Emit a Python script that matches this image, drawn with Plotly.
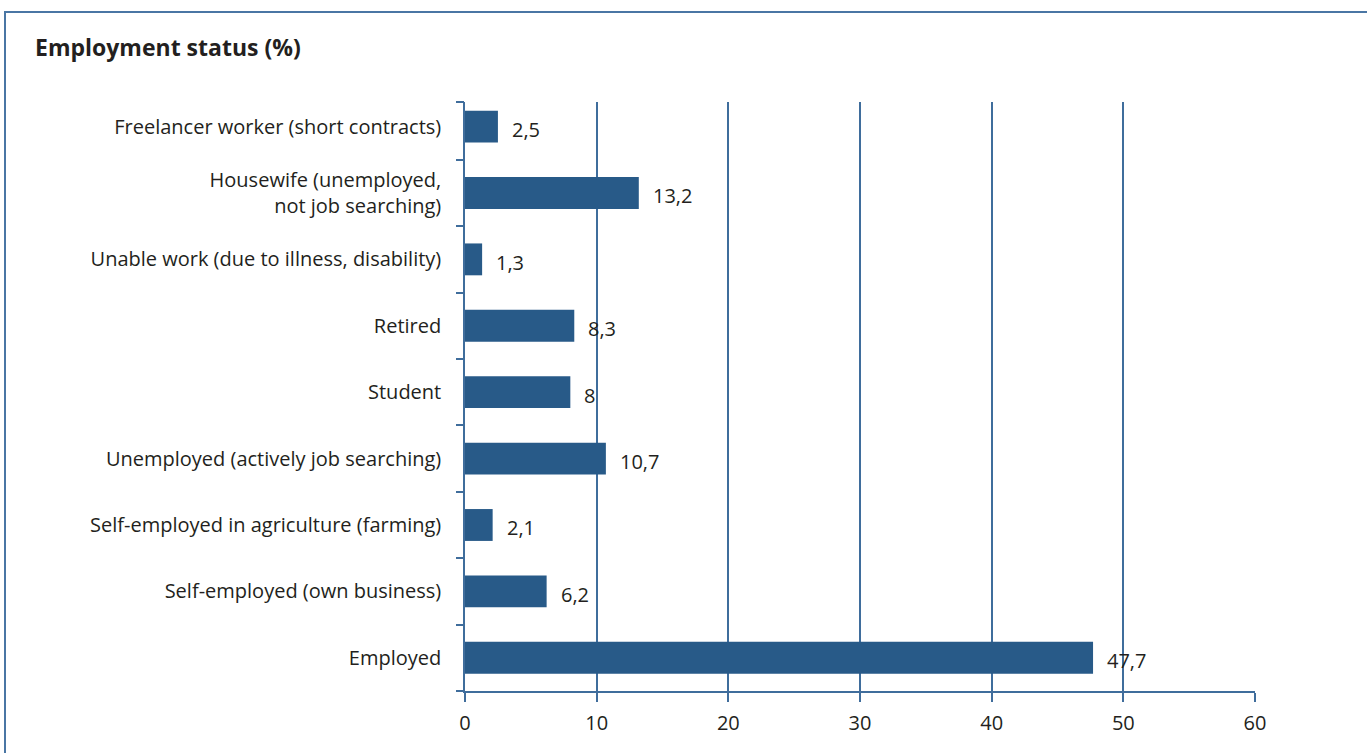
import plotly.graph_objects as go

# Employment status shares (%), listed top to bottom as shown
categories = [
    "Freelancer worker (short contracts)",
    "Housewife (unemployed,<br>not job searching)",
    "Unable work (due to illness, disability)",
    "Retired",
    "Student",
    "Unemployed (actively job searching)",
    "Self-employed in agriculture (farming)",
    "Self-employed (own business)",
    "Employed",
]
values = [2.5, 13.2, 1.3, 8.3, 8, 10.7, 2.1, 6.2, 47.7]
x_ticks = [0, 10, 20, 30, 40, 50, 60]

BAR = "#285a88"
LINE = "#3f6d9c"
TEXT = "#231f20"
FONT = "Open Sans"
FS = 20

# bottom-up order for the horizontal bars
cats_bu = categories[::-1]
vals_bu = values[::-1]
n = len(cats_bu)
y_top = n - 0.63


def fmt(v):
    s = f"{v:g}"
    return s.replace(".", ",")


fig = go.Figure()
fig.add_trace(go.Bar(
    x=vals_bu,
    y=list(range(n)),
    orientation="h",
    marker=dict(color=BAR, line=dict(width=0)),
    width=0.48,
    hoverinfo="skip",
    showlegend=False,
))

annotations = []
for i, v in enumerate(vals_bu):
    annotations.append(dict(
        x=v, y=i, xref="x", yref="y",
        text=fmt(v), showarrow=False,
        xanchor="left", yanchor="middle", xshift=12, yshift=-3,
        font=dict(family=FONT, size=FS, color=TEXT),
    ))

fig.update_layout(
    width=1367, height=753,
    margin=dict(l=465, r=112, t=102, b=62),
    paper_bgcolor="white",
    plot_bgcolor="white",
    title=dict(
        text="<b>Employment status (%)</b>",
        x=35 / 1367, xref="container", xanchor="left",
        y=1 - 48 / 753, yref="container", yanchor="middle",
        font=dict(family=FONT, size=23, color=TEXT),
    ),
    xaxis=dict(
        range=[0, 60],
        tickvals=x_ticks,
        ticktext=[str(t) for t in x_ticks],
        showgrid=True, gridcolor=LINE, gridwidth=1.5,
        zeroline=False,
        showline=True, linecolor=LINE, linewidth=1.5,
        ticks="outside", ticklen=9, tickcolor=LINE, tickwidth=1.5,
        ticklabelstandoff=4,
        tickfont=dict(family=FONT, size=FS, color=TEXT),
        fixedrange=True,
    ),
    yaxis=dict(
        range=[-0.5, y_top],
        tickmode="array",
        tickvals=list(range(n)),
        ticktext=cats_bu,
        showgrid=False, zeroline=False,
        showline=True, linecolor=LINE, linewidth=1.5,
        ticks="", ticklabelstandoff=18,
        tickfont=dict(family=FONT, size=FS, color=TEXT),
        fixedrange=True,
    ),
    yaxis2=dict(
        overlaying="y", side="left", anchor="x",
        range=[-0.5, y_top],
        tickmode="array",
        tickvals=[i - 0.5 for i in range(n)] + [y_top],
        showticklabels=False,
        showgrid=False, zeroline=False, showline=False,
        ticks="outside", ticklen=8, tickcolor=LINE, tickwidth=1.5,
        fixedrange=True,
    ),
    annotations=annotations,
    shapes=[dict(
        type="rect", xref="paper", yref="paper",
        x0=(5 - 465) / 790, x1=(1420 - 465) / 790,
        y0=(691 - 800) / 589, y1=(691 - 12) / 589,
        line=dict(color="#4a76a4", width=2),
        fillcolor="rgba(0,0,0,0)", layer="below",
    )],
)

# invisible trace so the tick-only axis is drawn
fig.add_trace(go.Scatter(x=[None], y=[None], yaxis="y2", showlegend=False, hoverinfo="skip"))

fig.write_html("out.html")
